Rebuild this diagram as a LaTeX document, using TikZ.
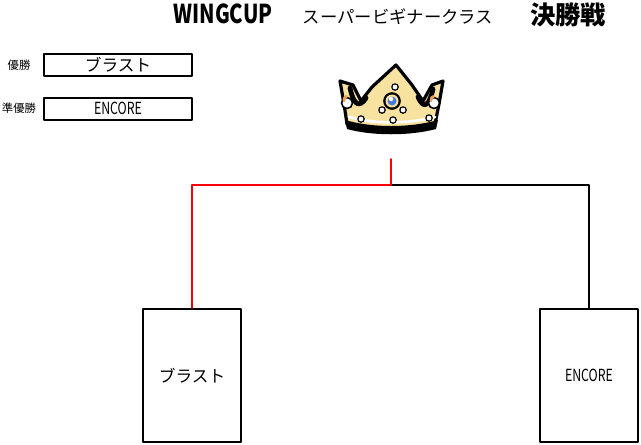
\documentclass[tikz,border=0pt]{standalone}
\usepackage{fontspec}
\usepackage{graphicx}
\setmainfont{Noto Sans CJK JP}
\definecolor{crownfill}{HTML}{F7E2A0}
\definecolor{gemblue}{HTML}{4A7BD6}
\definecolor{gemorange}{HTML}{F0A050}
\newcommand{\half}[1]{\scalebox{.74}[1]{#1}}
\begin{document}
\begin{tikzpicture}[x=.75pt, y=-.75pt, line join=round, line cap=round,
	namebox/.style={draw, line width=1.5pt, inner sep=0pt, minimum width=111pt, minimum height=16.5pt, font=\fontsize{12.5}{14}\selectfont},
	teambox/.style={draw, line width=1.5pt, inner sep=0pt, minimum width=73.5pt, minimum height=99.75pt, font=\fontsize{12.5}{14}\selectfont},
	rank/.style={font=\fontsize{8.5}{10}\selectfont, inner sep=0pt},
	wire/.style={line width=1.4pt},
	pearl/.style={fill=white, draw=black, line width=.9pt}]
	\useasboundingbox (0,0) rectangle (641,444);
	% tieu de
	\node[font=\bfseries\fontsize{19.5}{20}\selectfont] (wing) at (223,14) {\scalebox{.78}[1]{WINGCUP}};
	\node[font=\fontsize{13}{14}\selectfont] (cls) at (398,17) {スーパービギナークラス};
	\node[font=\bfseries\fontsize{19}{20}\selectfont] (fin) at (568,15) {決勝戦};
	% ket qua
	\node[namebox] (win) at (118,65) {ブラスト};
	\node[namebox] (second) at (118,108.5) {\half{ENCORE}};
	\node[rank] (winlbl) at (19,65) {優勝};
	\node[rank] (secondlbl) at (19,108.5) {準優勝};
	% hai doi
	\node[teambox] (left) at (192,375.5) {ブラスト};
	\node[teambox] (right) at (589,375.5) {\half{ENCORE}};
	\coordinate (mid) at (391,185);
	\coordinate (top) at (391,159);
	\draw[wire, black] (mid) -| (right.north);
	\draw[wire, red] (left.north) |- (mid) -- (top);
	% vuong mien
	\draw[line width=2.4pt, fill=crownfill] (340,81) -- (353,85) -- (361,101) -- (372,87) -- (396,65) -- (412,85) -- (423,101) -- (432,85) -- (443,81) -- (439,104) -- (435,124) .. controls (410,130) and (372,130) .. (347,124) -- (344,104) -- cycle;
	\draw[line width=3.6pt] (350,88) .. controls (353,102) and (358,110) .. (366,98);
	\draw[line width=3.6pt] (418,97) .. controls (424,110) and (429,106) .. (433,89);
	\draw[white, line width=2pt] (349,117) .. controls (372,124) and (410,124) .. (435,117);
	\fill (345,120) .. controls (372,128) and (410,128) .. (438,120) -- (436,129) .. controls (410,136) and (372,136) .. (347,129) -- cycle;
	% da quy
	\foreach \gx in {347,434} {
		\draw[pearl, line width=1.2pt] (\gx,103) circle (5.5);
		\draw[gemorange, line width=2pt] (\gx-3,101) arc (160:260:3.5);
	}
	\draw[fill=black] (392,101) circle (8.5);
	\draw[fill=crownfill, draw=none] (392,101) circle (6.5);
	\fill[gemblue] (392,101) circle (4.5);
	\fill[white] (391,99) circle (2.2);
	\foreach \px/\py in {395/87, 382/110, 403/110, 393/120, 361/119, 429/118} \draw[pearl] (\px,\py) circle (3.2);
\end{tikzpicture}
\end{document}
